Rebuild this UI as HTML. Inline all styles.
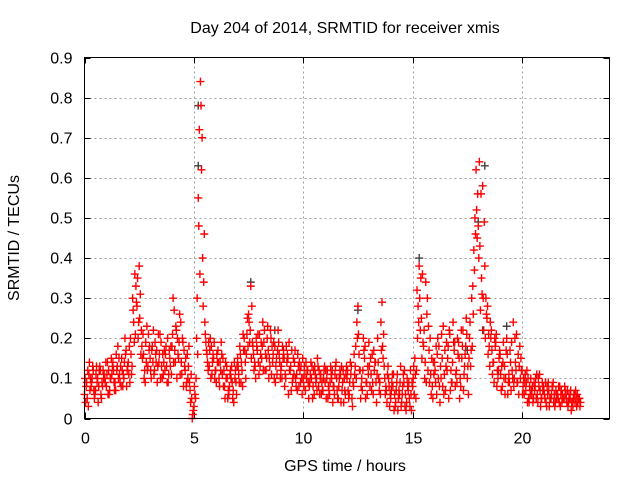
<!DOCTYPE html>
<html><head><meta charset="utf-8"><style>
body{margin:0;background:#fff}
svg{display:block;font-family:"Liberation Sans",sans-serif}
</style></head><body>
<svg id="chart" width="640" height="480" viewBox="0 0 640 480" xmlns="http://www.w3.org/2000/svg">
<rect width="640" height="480" fill="#fff"/>
<text x="345" y="33" font-size="16" text-anchor="middle" fill="#000">Day 204 of 2014, SRMTID for receiver xmis</text>
<text x="345" y="471" font-size="16" text-anchor="middle" fill="#000">GPS time / hours</text>
<text transform="translate(19,238) rotate(-90)" font-size="16" text-anchor="middle" fill="#000">SRMTID / TECUs</text>
<g id="grid"></g><g id="ticks"></g><g id="marks"></g>
<rect x="84.5" y="57.5" width="525" height="361" fill="none" stroke="#000" stroke-width="1"/>
</svg>
<script>
const xTicks=[0,5,10,15,20];
const yTicks=[0,0.1,0.2,0.3,0.4,0.5,0.6,0.7,0.8,0.9];
const yTickLabels=["0","0.1","0.2","0.3","0.4","0.5","0.6","0.7","0.8","0.9"];
const startA=0, startB=0.05, startC=0.025, startD=0.075, step=0.1;
const seriesA=[0.06,0.09,0.11,0.08,0.12,0.07,0.10,0.13,0.09,0.11,
0.08,0.12,0.10,0.14,0.09,0.13,0.11,0.15,0.10,0.17,
0.14,0.20,0.30,0.36,0.28,0.38,0.22,0.16,0.19,0.13,
0.15,0.18,0.12,0.17,0.14,0.19,0.11,0.16,0.20,0.15,
0.18,0.27,0.22,0.15,0.24,0.19,0.12,0.16,0.09,0.05,
0.03,0.10,0.55,0.84,0.40,0.24,0.16,0.13,0.18,0.15,
0.12,0.17,0.14,0.11,0.08,0.13,0.06,0.10,0.07,0.12,
0.15,0.18,0.12,0.20,0.16,0.26,0.33,0.18,0.13,0.17,
0.21,0.15,0.19,0.12,0.17,0.22,0.14,0.18,0.11,0.16,
0.13,0.17,0.10,0.15,0.12,0.09,0.14,0.11,0.08,0.13,
0.10,0.07,0.12,0.09,0.13,0.06,0.10,0.08,0.11,0.07,
0.09,0.12,0.06,0.10,0.08,0.14,0.05,0.11,0.09,0.07,
0.10,0.06,0.13,0.08,0.18,0.28,0.12,0.07,0.15,0.09,
0.19,0.11,0.06,0.14,0.20,0.09,0.29,0.13,0.07,0.10,
0.05,0.08,0.03,0.11,0.06,0.04,0.09,0.02,0.07,0.12,
0.08,0.15,0.32,0.38,0.25,0.18,0.34,0.12,0.20,0.08,
0.14,0.06,0.18,0.10,0.23,0.07,0.15,0.21,0.09,0.17,
0.12,0.19,0.08,0.22,0.16,0.10,0.20,0.30,0.42,0.62,
0.48,0.27,0.58,0.38,0.25,0.18,0.22,0.14,0.19,0.10,
0.16,0.08,0.13,0.20,0.11,0.07,0.24,0.14,0.09,0.18,
0.12,0.06,0.09,0.05,0.10,0.04,0.08,0.06,0.11,0.05,
0.07,0.04,0.09,0.05,0.08,0.03,0.06,0.04,0.07,0.05,
0.06,0.03,0.05,0.04,0.06,0.03,0.05];
const seriesB=[0.04,0.12,0.07,0.10,0.05,0.13,0.08,0.06,0.12,0.09,
0.14,0.07,0.11,0.09,0.16,0.10,0.13,0.08,0.20,0.12,
0.18,0.11,0.24,0.33,0.20,0.31,0.15,0.12,0.23,0.17,
0.10,0.22,0.16,0.13,0.21,0.10,0.17,0.13,0.11,0.18,
0.30,0.14,0.20,0.26,0.11,0.17,0.08,0.13,0.04,0.01,
0.06,0.30,0.72,0.62,0.34,0.19,0.12,0.20,0.14,0.10,
0.16,0.10,0.19,0.08,0.14,0.05,0.11,0.09,0.14,0.06,
0.11,0.09,0.21,0.14,0.25,0.19,0.28,0.12,0.20,0.14,
0.16,0.24,0.12,0.20,0.15,0.11,0.19,0.13,0.22,0.10,
0.18,0.08,0.14,0.19,0.07,0.15,0.10,0.16,0.12,0.06,
0.13,0.10,0.05,0.14,0.08,0.11,0.15,0.06,0.09,0.12,
0.05,0.08,0.13,0.04,0.11,0.07,0.10,0.13,0.04,0.11,
0.07,0.14,0.03,0.11,0.24,0.16,0.08,0.20,0.05,0.13,
0.08,0.16,0.12,0.04,0.10,0.24,0.15,0.06,0.11,0.03,
0.09,0.02,0.07,0.05,0.13,0.08,0.03,0.10,0.05,0.02,
0.13,0.05,0.28,0.22,0.36,0.10,0.26,0.17,0.06,0.14,
0.09,0.20,0.04,0.15,0.11,0.19,0.05,0.12,0.24,0.08,
0.20,0.05,0.15,0.11,0.25,0.06,0.13,0.33,0.50,0.45,
0.64,0.35,0.22,0.30,0.16,0.24,0.11,0.20,0.08,0.15,
0.07,0.19,0.10,0.06,0.17,0.12,0.10,0.21,0.06,0.15,
0.08,0.11,0.04,0.08,0.06,0.09,0.05,0.10,0.03,0.07,
0.05,0.08,0.03,0.06,0.04,0.07,0.05,0.03,0.06,0.08,
0.04,0.06,0.02,0.05,0.07,0.04,0.03];
const seriesC=[0.10,0.05,0.14,0.09,0.07,0.11,0.04,0.12,0.08,0.10,
0.11,0.06,0.15,0.12,0.07,0.18,0.09,0.12,0.14,0.08,
0.11,0.16,0.27,0.21,0.35,0.25,0.18,0.10,0.14,0.21,
0.12,0.14,0.19,0.09,0.16,0.13,0.14,0.18,0.09,0.13,
0.21,0.17,0.10,0.19,0.14,0.08,0.15,0.10,0.07,0.00,
0.08,0.20,0.48,0.78,0.28,0.21,0.14,0.17,0.11,0.19,
0.09,0.14,0.12,0.15,0.05,0.10,0.08,0.13,0.04,0.09,
0.13,0.16,0.08,0.17,0.21,0.24,0.15,0.16,0.10,0.21,
0.13,0.18,0.22,0.15,0.10,0.20,0.16,0.09,0.17,0.14,
0.10,0.15,0.18,0.06,0.13,0.10,0.17,0.07,0.14,0.10,
0.08,0.14,0.09,0.11,0.05,0.13,0.07,0.12,0.06,0.10,
0.12,0.05,0.09,0.12,0.06,0.10,0.08,0.04,0.12,0.06,
0.12,0.09,0.05,0.16,0.10,0.21,0.05,0.12,0.18,0.06,
0.13,0.07,0.17,0.09,0.14,0.06,0.18,0.10,0.04,0.08,
0.07,0.11,0.04,0.02,0.09,0.06,0.12,0.04,0.09,0.06,
0.10,0.11,0.20,0.30,0.15,0.22,0.09,0.23,0.11,0.05,
0.12,0.16,0.08,0.21,0.06,0.13,0.18,0.07,0.14,0.19,
0.09,0.15,0.22,0.07,0.18,0.13,0.24,0.18,0.37,0.52,
0.40,0.56,0.30,0.20,0.28,0.13,0.17,0.09,0.21,0.12,
0.11,0.14,0.06,0.16,0.09,0.19,0.08,0.12,0.16,0.10,
0.06,0.09,0.12,0.04,0.07,0.05,0.10,0.04,0.07,0.09,
0.06,0.03,0.07,0.05,0.09,0.04,0.06,0.08,0.04,0.05,
0.05,0.04,0.07,0.03,0.04,0.06,0.05];
const seriesD=[0.08,0.03,0.10,0.13,0.06,0.09,0.12,0.05,0.10,0.14,
0.06,0.10,0.13,0.07,0.12,0.15,0.08,0.11,0.16,0.13,
0.09,0.13,0.19,0.29,0.24,0.16,0.21,0.09,0.12,0.18,
0.17,0.11,0.14,0.21,0.10,0.16,0.12,0.09,0.17,0.11,
0.14,0.23,0.16,0.11,0.20,0.13,0.09,0.18,0.11,0.02,
0.05,0.16,0.36,0.70,0.46,0.17,0.19,0.10,0.16,0.12,
0.14,0.08,0.16,0.12,0.10,0.07,0.12,0.05,0.10,0.13,
0.09,0.14,0.17,0.10,0.18,0.22,0.19,0.14,0.18,0.11,
0.19,0.12,0.16,0.23,0.13,0.18,0.10,0.15,0.19,0.12,
0.15,0.11,0.16,0.12,0.17,0.11,0.08,0.13,0.09,0.15,
0.11,0.12,0.08,0.10,0.12,0.09,0.13,0.10,0.07,0.13,
0.10,0.07,0.11,0.08,0.13,0.05,0.12,0.07,0.10,0.13,
0.05,0.11,0.09,0.13,0.20,0.12,0.10,0.17,0.09,0.11,
0.15,0.09,0.14,0.11,0.07,0.17,0.21,0.08,0.13,0.06,
0.11,0.06,0.09,0.07,0.03,0.11,0.06,0.08,0.03,0.09,
0.06,0.12,0.24,0.35,0.19,0.14,0.30,0.09,0.15,0.11,
0.18,0.10,0.13,0.08,0.17,0.12,0.22,0.09,0.19,0.11,
0.16,0.10,0.18,0.13,0.21,0.15,0.17,0.26,0.46,0.56,
0.43,0.31,0.49,0.26,0.21,0.20,0.14,0.18,0.12,0.17,
0.13,0.10,0.17,0.09,0.14,0.10,0.20,0.09,0.13,0.12,
0.10,0.07,0.10,0.06,0.08,0.07,0.11,0.08,0.05,0.08,
0.09,0.06,0.05,0.08,0.06,0.05,0.08,0.06,0.05,0.07,
0.07,0.05,0.04,0.06,0.05,0.05,0.04];
const grayTimes=[0.5,5.2,5.2,7.6,8.7,12.5,15.3,17.5,18.0,18.2,18.3,19.3];
const grayValues=[0.07,0.63,0.78,0.34,0.22,0.27,0.40,0.17,0.49,0.22,0.63,0.23];

const NS="http://www.w3.org/2000/svg";
const X0=84.5,X1=609.5,Y0=418.5,Y1=57.5,XMAX=24,YMAX=0.9;
function xs(h){return X0+(h/XMAX)*(X1-X0);}
function ys(v){return Y0-(v/YMAX)*(Y0-Y1);}
function mk(tag,attrs,parent){const e=document.createElementNS(NS,tag);for(const k in attrs)e.setAttribute(k,attrs[k]);parent.appendChild(e);return e;}
const grid=document.getElementById('grid'),ticks=document.getElementById('ticks'),marks=document.getElementById('marks');
yTicks.forEach((v,i)=>{
  const y=Math.round(ys(v))+0.5;
  if(i>0&&i<yTicks.length-1){const g=mk('line',{x1:X0,x2:X1,y1:y,y2:y,stroke:'#a0a0a0','stroke-dasharray':'2,3'},grid);
  
  }
  mk('line',{x1:X0,x2:X0+6,y1:y,y2:y,stroke:'#000'},ticks);
  mk('line',{x1:X1,x2:X1-6,y1:y,y2:y,stroke:'#000'},ticks);
  const t=mk('text',{x:X0-12,y:y+5,'font-size':16,'text-anchor':'end',fill:'#000'},ticks);
  t.textContent=yTickLabels[i];
  
  
});
xTicks.forEach((h,i)=>{
  const x=Math.round(xs(h))+0.5;
  if(i>0){const g=mk('line',{x1:x,x2:x,y1:Y0,y2:Y1,stroke:'#a0a0a0','stroke-dasharray':'2,3'},grid);
  
  }
  mk('line',{x1:x,x2:x,y1:Y0,y2:Y0-6,stroke:'#000'},ticks);
  mk('line',{x1:x,x2:x,y1:Y1,y2:Y1+6,stroke:'#000'},ticks);
  const t=mk('text',{x:x,y:Y0+25,'font-size':16,'text-anchor':'middle',fill:'#000'},ticks);
  t.textContent=String(h);
  
  
});
function plus(h,v,color){
  const x=xs(h),y=ys(v);
  const p=mk('path',{d:`M${x-4},${y}H${x+4}M${x},${y-4}V${y+4}`,stroke:color,'stroke-width':1.4,fill:'none'},marks);
  
  
}
grayTimes.forEach((h,i)=>plus(h,grayValues[i],'#404040'));
seriesA.forEach((v,i)=>plus(startA+i*step,v,'#ff0000'));
seriesB.forEach((v,i)=>plus(startB+i*step,v,'#ff0000'));
seriesC.forEach((v,i)=>plus(startC+i*step,v,'#ff0000'));
seriesD.forEach((v,i)=>plus(startD+i*step,v,'#ff0000'));
</script>
</body></html>
